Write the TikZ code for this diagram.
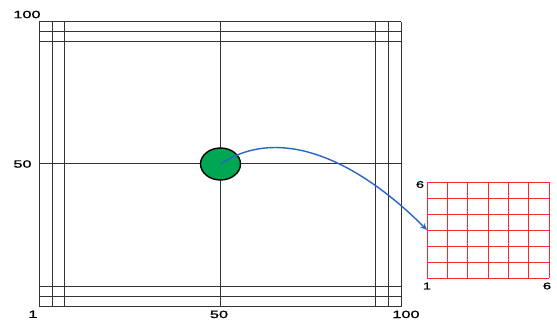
\documentclass[tikz,border=0pt]{standalone}
\usepackage{fontspec}
\newfontfamily\lblfont[FakeStretch=1.55,FakeBold=1.2]{Liberation Sans}
\usetikzlibrary{shapes.geometric,arrows.meta}
\definecolor{dotgreen}{RGB}{0,166,81}
\definecolor{arrowblue}{RGB}{40,100,205}
\definecolor{gridred}{RGB}{255,40,40}
\tikzset{
  frame/.style={draw=black!80,line width=1pt},
  lbl/.style={inner sep=0pt,font=\lblfont\fontsize{10.5}{12}\selectfont},
  smalllbl/.style={inner sep=0pt,font=\lblfont\fontsize{9.5}{11}\selectfont},
  redgrid/.style={draw=gridred,line width=0.9pt},
  dot/.style={ellipse,draw=black,line width=1.4pt,fill=dotgreen,minimum width=40pt,minimum height=32pt,inner sep=0pt},
  link/.style={draw=arrowblue,line width=1.4pt,-{Stealth[length=7pt,width=6pt]}}
}
\begin{document}
\begin{tikzpicture}[x=1pt,y=-1pt]
\useasboundingbox (0,0) rectangle (557,320);
% frame lines
\foreach \x in {39,52,64,220.5,375,388,401}
  \draw[frame] (\x,22) -- (\x,307);
\foreach \y in {22,32,42,164,287,297,307}
  \draw[frame] (39,\y) -- (401,\y);
% axis labels
\node[lbl] (t100) at (27,14.5) {100};
\node[lbl] (l50) at (22.5,164) {50};
\node[lbl,anchor=north] (b1) at (33,310.5) {1};
\node[lbl,anchor=north] (b50) at (219,310.5) {50};
\node[lbl,anchor=north] (b100) at (406,310.5) {100};
% red grid
\foreach \i in {0,...,6}{
  \draw[redgrid] ({427+\i*122/6},182) -- ({427+\i*122/6},278);
  \draw[redgrid] (427,{182+\i*16}) -- (549,{182+\i*16});
}
\node[smalllbl] (g6) at (420,184.5) {6};
\node[smalllbl] (g1) at (427,286) {1};
\node[smalllbl] (g6b) at (547,286) {6};
% circle and arrow
\node[dot] (c) at (220.5,164) {};
\coordinate (g) at (427,230);
\draw[link] (c.center) .. controls (279,125) and (356,159) .. (g);
\end{tikzpicture}
\end{document}
